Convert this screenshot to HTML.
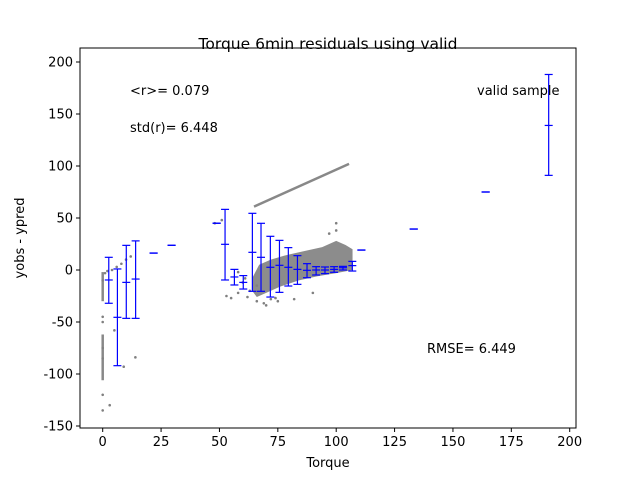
<!DOCTYPE html>
<html><head><meta charset="utf-8"><style>
body{margin:0;background:#fff}
svg text{font-family:"DejaVu Sans","Liberation Sans",sans-serif;fill:#000}
</style></head><body>
<svg id="chart" width="640" height="480" viewBox="0 0 640 480" xmlns="http://www.w3.org/2000/svg">
<rect width="640" height="480" fill="#fff"/>
<g id="plot"></g>
<text x="328" y="49" font-size="15.5" text-anchor="middle">Torque 6min residuals using valid</text>
<text x="328" y="467" font-size="13" text-anchor="middle">Torque</text>
<text x="0" y="0" font-size="13" text-anchor="middle" transform="translate(24,238) rotate(-90)">yobs - ypred</text>
<text x="130" y="95" font-size="13">&lt;r&gt;= 0.079</text>
<text x="130" y="132" font-size="13">std(r)= 6.448</text>
<text x="477" y="95" font-size="13">valid sample</text>
<text x="427" y="353" font-size="13">RMSE= 6.449</text>
</svg>
<script>
const xTicks=[0,25,50,75,100,125,150,175,200];
const yTicks=[-150,-100,-50,0,50,100,150,200];
const binX=[2.6,6.3,10.1,14.1,21.8,29.5,48.8,52.4,56.4,60.2,64.1,67.8,71.8,75.7,79.5,83.4,87.5,91.4,95.2,99.1,102.9,106.9,110.8,133.2,164,191];
const binMean=[-9.6,-45.5,-11.9,-8.7,16.3,23.7,45,24.7,-6.7,-11.9,17,12.2,2.6,4.5,2.6,0.6,-0.3,0,0,0.6,2.2,4.2,19.2,39.4,75,139];
const binErrHi=[12.2,1,23.7,28,16.3,23.7,45,58.3,0.6,-5.4,54.5,44.9,32.4,28.5,21.5,13.8,6.1,3.2,2.9,3.2,3.5,8.3,19.2,39.4,75,188];
const binErrLo=[-32,-92,-46.5,-46.5,16.3,23.7,45,-9.6,-14.4,-18.3,-20.5,-20.5,-26,-21.5,-15.4,-13.8,-7.4,-4.8,-3.5,-2.2,0,-1,19.2,39.4,75,91];
const cloudX=[64,67,72,78,86,94,100,104,107,107,100,92,84,76,70,66,64];
const cloudY=[-8,5,10,14,18,22,28,24,20,0,-3,-6,-10,-16,-22,-26,-20];
const lineX=[64.8,105.5];
const lineY=[60.9,102];
const outX=[0,0,3,5,9,14,1,2,4,6,8,10,12,48,51,53,55,58,62,66,70,72,60,63,66,100,0,0,0,0,0,75,82,90,97,100,58,61,69,74];
const outY=[-120,-135,-130,-58,-93,-84,-3,-1,0,3,6,10,13,45,48,-25,-27,-22,-26,-30,-34,-28,-12,-20,-15,45,-85,-75,-45,-50,-10,-30,-28,-22,35,38,-2,-8,-32,-27];
const stripYTop=[-2,-62];
const stripYBot=[-30,-106];
const NS='http://www.w3.org/2000/svg';
const L=80,R=576,T=48,B=428;
function sx(v){return 102.7+v*2.335;}
function sy(v){return 270-v*1.04;}
const g=document.getElementById('plot');
function mk(tag,attrs){const e=document.createElementNS(NS,tag);for(const k in attrs)e.setAttribute(k,attrs[k]);g.appendChild(e);return e;}
let p=mk('polygon',{points:cloudX.map((x,i)=>sx(x)+','+sy(cloudY[i])).join(' '),fill:'#8c8c8c'});


let ln=mk('line',{x1:sx(lineX[0]),y1:sy(lineY[0]),x2:sx(lineX[1]),y2:sy(lineY[1]),stroke:'#888','stroke-width':2.5});


stripYTop.forEach((t,i)=>{
 const s=mk('line',{x1:sx(0),x2:sx(0),y1:sy(t),y2:sy(stripYBot[i]),stroke:'#888','stroke-width':2.5});
 
 
});
outX.forEach((x,i)=>{
 const c=mk('circle',{cx:sx(x),cy:sy(outY[i]),r:1.3,fill:'#808080'});
 
 
});
binX.forEach((x,i)=>{
 const X=sx(x);
 const eb=document.createElementNS(NS,'g');g.appendChild(eb);
 
 
 const add=(a)=>{const e=document.createElementNS(NS,'line');for(const k in a)e.setAttribute(k,a[k]);e.setAttribute('stroke','#0000ff');e.setAttribute('stroke-width',1.2);eb.appendChild(e);};
 add({x1:X,x2:X,y1:sy(binErrHi[i]),y2:sy(binErrLo[i])});
 add({x1:X-4,x2:X+4,y1:sy(binErrHi[i]),y2:sy(binErrHi[i])});
 add({x1:X-4,x2:X+4,y1:sy(binErrLo[i]),y2:sy(binErrLo[i])});
 add({x1:X-4,x2:X+4,y1:sy(binMean[i]),y2:sy(binMean[i])});
});
let fr=mk('rect',{x:L,y:T,width:R-L,height:B-T,fill:'none',stroke:'#000','stroke-width':1});


xTicks.forEach(v=>{
 mk('line',{x1:sx(v),x2:sx(v),y1:B,y2:B+4,stroke:'#000'});
 const t=mk('text',{x:sx(v),y:B+18,'font-size':13,'text-anchor':'middle'});t.textContent=v;
 
 
});
yTicks.forEach(v=>{
 mk('line',{x1:L-4,x2:L,y1:sy(v),y2:sy(v),stroke:'#000'});
 const t=mk('text',{x:L-7,y:sy(v)+4.5,'font-size':13,'text-anchor':'end'});t.textContent=v;
 
 
});
</script>
</body></html>
